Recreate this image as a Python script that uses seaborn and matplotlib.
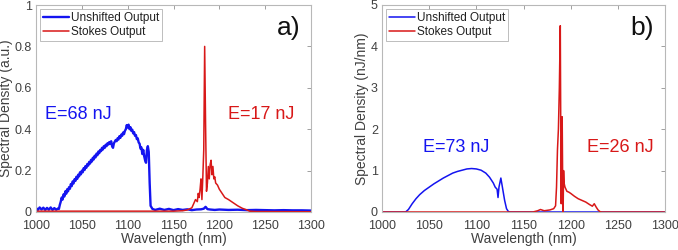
import numpy as np
import pandas as pd
import seaborn as sns
import matplotlib.pyplot as plt

# panel a) normalised spectra
a_unshifted_wl = [1000, 1002, 1004, 1006, 1008, 1010, 1012, 1014, 1016, 1018, 1020, 1022, 1024, 1025,
                  1026, 1027, 1028, 1029, 1030, 1031, 1032, 1033, 1034, 1035, 1036, 1037, 1038, 1039,
                  1040, 1041, 1042, 1043, 1044, 1045, 1046, 1047, 1048, 1049, 1050, 1051, 1052, 1053,
                  1054, 1055, 1056, 1057, 1058, 1059, 1060, 1061, 1062, 1063, 1064, 1065, 1066, 1067,
                  1068, 1069, 1070, 1071, 1072, 1073, 1074, 1075, 1076, 1077, 1078, 1079, 1080, 1081,
                  1082, 1083, 1084, 1085, 1086, 1087, 1088, 1089, 1090, 1091, 1092, 1093, 1094, 1095,
                  1096, 1097, 1098, 1099, 1100, 1101, 1102, 1103, 1104, 1105, 1106, 1107, 1108, 1109,
                  1110, 1111, 1112, 1113, 1114, 1115, 1116, 1117, 1118, 1119, 1120, 1121, 1122, 1123,
                  1124, 1125, 1127, 1130, 1135, 1140, 1145, 1150, 1155, 1160, 1165, 1170, 1175, 1180,
                  1183, 1185, 1187, 1190, 1195, 1200, 1210, 1220, 1230, 1240, 1250, 1260, 1270, 1280,
                  1290, 1300]
a_unshifted = [0.020, 0.010, 0.022, 0.012, 0.021, 0.010, 0.020, 0.011, 0.022, 0.010, 0.019, 0.011, 0.017, 0.015,
               0.035, 0.050, 0.070, 0.060, 0.085, 0.075, 0.100, 0.088, 0.110, 0.100, 0.120, 0.112, 0.135, 0.125,
               0.148, 0.138, 0.158, 0.150, 0.170, 0.160, 0.180, 0.172, 0.192, 0.182, 0.200, 0.192, 0.212, 0.203,
               0.222, 0.214, 0.232, 0.224, 0.242, 0.234, 0.252, 0.244, 0.262, 0.254, 0.272, 0.264, 0.282, 0.274,
               0.292, 0.284, 0.300, 0.294, 0.310, 0.302, 0.318, 0.310, 0.325, 0.318, 0.332, 0.326, 0.338, 0.330,
               0.342, 0.318, 0.310, 0.332, 0.340, 0.348, 0.342, 0.356, 0.350, 0.366, 0.358, 0.374, 0.368, 0.384,
               0.376, 0.392, 0.400, 0.420, 0.408, 0.422, 0.400, 0.410, 0.392, 0.398, 0.380, 0.386, 0.368, 0.372,
               0.352, 0.356, 0.336, 0.330, 0.306, 0.312, 0.280, 0.300, 0.270, 0.250, 0.238, 0.300, 0.318, 0.290,
               0.140, 0.030, 0.015, 0.010, 0.016, 0.010, 0.015, 0.009, 0.014, 0.010, 0.013, 0.009, 0.012, 0.013,
               0.016, 0.025, 0.014, 0.012, 0.010, 0.012, 0.010, 0.011, 0.009, 0.010, 0.009, 0.008, 0.009, 0.008,
               0.008, 0.007]
a_stokes_wl = [1000, 1050, 1100, 1150, 1160, 1165, 1170, 1172, 1174, 1176, 1177, 1178, 1179, 1180, 1181,
               1182, 1183, 1184, 1185, 1186, 1187, 1188, 1189, 1190, 1191, 1192, 1193, 1194, 1195, 1196,
               1198, 1200, 1203, 1206, 1210, 1215, 1220, 1225, 1230, 1233, 1240, 1300]
a_stokes = [0.004, 0.004, 0.004, 0.004, 0.006, 0.010, 0.020, 0.040, 0.060, 0.050, 0.090, 0.070, 0.110, 0.160, 0.060,
            0.170, 0.300, 0.800, 0.420, 0.100, 0.140, 0.220, 0.160, 0.230, 0.250, 0.180, 0.220, 0.160, 0.170, 0.140,
            0.130, 0.110, 0.090, 0.070, 0.060, 0.045, 0.030, 0.018, 0.010, 0.004, 0.002, 0.001]

# panel b) absolute spectra
b_unshifted_wl = [1000, 1020, 1025, 1028, 1032, 1036, 1040, 1045, 1050, 1055, 1060, 1065, 1070, 1075,
                  1080, 1085, 1090, 1095, 1100, 1105, 1110, 1114, 1118, 1120, 1122, 1123, 1124, 1126,
                  1128, 1130, 1132, 1134, 1136, 1150, 1200, 1300]
b_unshifted = [0.0, 0.0, 0.0, 0.06, 0.20, 0.32, 0.42, 0.52, 0.60, 0.68, 0.75, 0.82, 0.88, 0.94,
               0.98, 1.01, 1.04, 1.05, 1.04, 1.01, 0.94, 0.84, 0.70, 0.60, 0.55, 0.35, 0.60, 0.82,
               0.55, 0.28, 0.08, 0.01, 0.0, 0.0, 0.0, 0.0]
b_stokes_wl = [1000, 1100, 1160, 1165, 1168, 1172, 1178, 1182, 1184, 1185, 1186, 1187, 1188, 1189,
               1189.5, 1190, 1190.5, 1191, 1191.5, 1192, 1192.5, 1193, 1194, 1196, 1198, 1200, 1204,
               1208, 1212, 1216, 1220, 1223, 1225, 1227, 1229, 1231, 1233, 1250, 1300]
b_stokes = [0.0, 0.0, 0.0, 0.03, 0.06, 0.03, 0.05, 0.08, 0.15, 0.60, 1.50, 2.00, 3.00, 4.50,
            2.00, 0.20, 1.80, 2.30, 0.80, 0.0, 1.00, 0.70, 0.60, 0.50, 0.48, 0.45, 0.38,
            0.32, 0.28, 0.24, 0.18, 0.14, 0.20, 0.12, 0.05, 0.01, 0.0, 0.0, 0.0]

panels = [
    dict(tag="a)", ylabel="Spectral Density (a.u.)", ymax=1, yticks=[0, 0.2, 0.4, 0.6, 0.8, 1],
         ylabels=["0", "0.2", "0.4", "0.6", "0.8", "1"], blue_lw=1.7,
         blue=(a_unshifted_wl, a_unshifted), red=(a_stokes_wl, a_stokes),
         e_blue=("E=68 nJ", 1010, 0.47), e_red=("E=17 nJ", 1209, 0.47)),
    dict(tag="b)", ylabel="Spectral Density (nJ/nm)", ymax=5, yticks=[0, 1, 2, 3, 4, 5],
         ylabels=["0", "1", "2", "3", "4", "5"], blue_lw=1.1,
         blue=(b_unshifted_wl, b_unshifted), red=(b_stokes_wl, b_stokes),
         e_blue=("E=73 nJ", 1043, 1.55), e_red=("E=26 nJ", 1217, 1.55)),
]

BLUE = "#1414F0"
RED = "#D81818"
GREY = "#404040"

sns.set_style("white")
plt.rcParams["font.family"] = ["Liberation Sans", "DejaVu Sans"]

fig = plt.figure(figsize=(6.78, 2.5), dpi=100)
ax_pos = [[36 / 678, 38 / 250, 275 / 678, 207 / 250],
          [382 / 678, 38 / 250, 283 / 678, 207 / 250]]

for pos, p in zip(ax_pos, panels):
    ax = fig.add_axes(pos)
    df_b = pd.DataFrame({"wl": p["blue"][0], "val": p["blue"][1]})
    df_r = pd.DataFrame({"wl": p["red"][0], "val": p["red"][1]})
    sns.lineplot(data=df_b, x="wl", y="val", ax=ax, color=BLUE, lw=p["blue_lw"],
                 estimator=None, sort=False, label="Unshifted Output")
    sns.lineplot(data=df_r, x="wl", y="val", ax=ax, color=RED, lw=1.1,
                 estimator=None, sort=False, label="Stokes Output")
    ax.set_xlim(1000, 1300)
    ax.set_ylim(0, p["ymax"])
    ax.set_xticks([1000, 1050, 1100, 1150, 1200, 1250, 1300])
    ax.set_yticks(p["yticks"])
    ax.set_yticklabels(p["ylabels"])
    ax.tick_params(direction="in", length=3, top=True, right=True, labelsize=9,
                   colors="#909090", labelcolor=GREY, width=0.6)
    ax.tick_params(axis="x", pad=6)
    ax.tick_params(axis="y", pad=3)
    for s in ax.spines.values():
        s.set_color("#b8b8b8")
        s.set_linewidth(0.8)
    ax.set_xlabel("Wavelength (nm)", fontsize=10, color=GREY, labelpad=0)
    ax.set_ylabel(p["ylabel"], fontsize=10, color=GREY, labelpad=1)
    leg = ax.legend(loc="upper left", fontsize=8.5, frameon=True, fancybox=False,
                    borderpad=0.25, handlelength=2.2, labelspacing=0.2,
                    borderaxespad=0.35, handletextpad=0.15)
    leg.get_frame().set_edgecolor("#a0a0a0")
    leg.get_frame().set_linewidth(0.6)
    for t in leg.get_texts():
        t.set_color("#202020")
    ax.text(0.96, 0.89, p["tag"], transform=ax.transAxes, fontsize=19,
            ha="right", va="center", color="#111111")
    t, x, y = p["e_blue"]
    ax.text(x, y, t, color=BLUE, fontsize=13, ha="left", va="center")
    t, x, y = p["e_red"]
    ax.text(x, y, t, color=RED, fontsize=13, ha="left", va="center")

fig.savefig("out.png", dpi=100)
